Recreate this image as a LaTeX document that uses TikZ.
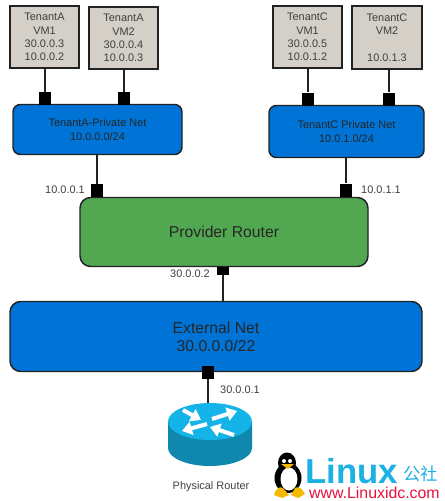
\documentclass[tikz,border=0pt]{standalone}
\usepackage{fontspec}
\setmainfont{Liberation Sans}
\newfontfamily\cjkfont{Noto Sans CJK SC}
\usetikzlibrary{arrows.meta, positioning, calc}
\definecolor{vmgray}{HTML}{D4D0C8}
\definecolor{netblue}{HTML}{0073D6}
\definecolor{routergreen}{HTML}{51A851}
\definecolor{textgray}{HTML}{404040}
\definecolor{linecol}{HTML}{222222}
\definecolor{icontop}{HTML}{14B4E8}
\definecolor{iconside}{HTML}{1088AE}
\definecolor{wmcyan}{HTML}{1CB0E4}
\definecolor{wmred}{HTML}{E8103C}
\definecolor{wmyellow}{HTML}{F5B800}
\def\u{0.75pt}
\begin{document}
\begin{tikzpicture}[
    x=0.75pt, y=-0.75pt,
    link/.style={draw=linecol, line width=1.1pt},
    vmbox/.style={draw=linecol, line width=1.1pt, fill=vmgray, text=textgray, align=center, inner sep=0pt, font=\fontsize{8.2}{9.9}\selectfont},
    net/.style={draw=linecol, line width=1.1pt, fill=netblue, text=black!85, align=center, inner sep=0pt, rounded corners=5.5pt, font=\fontsize{8.2}{10}\selectfont},
    bignet/.style={net, rounded corners=8pt, font=\fontsize{11.8}{13.5}\selectfont},
    port/.style={fill=black, minimum width=12*\u, minimum height=13*\u, inner sep=0pt},
    addr/.style={text=textgray, inner sep=0pt, font=\fontsize{8.2}{10}\selectfont},
    iconarrow/.style={-{Triangle[length=7.5pt, width=10pt]}, white, line width=3pt},
]
\useasboundingbox (0,0) rectangle (444,501);
% === Tenant VMs ===
\node[vmbox, minimum width=69*\u, minimum height=62*\u] (vma1) at (44.5,37) {TenantA\\VM1\\30.0.0.3\\10.0.0.2};
\node[vmbox, minimum width=69*\u, minimum height=62*\u] (vma2) at (123.5,38) {TenantA\\VM2\\30.0.0.4\\10.0.0.3};
\node[vmbox, minimum width=69*\u, minimum height=62*\u] (vmc1) at (307.5,37) {TenantC\\VM1\\30.0.0.5\\10.0.1.2};
\node[vmbox, minimum width=70*\u, minimum height=63*\u] (vmc2) at (387,37.5) {TenantC\\VM2\\\mbox{}\\10.0.1.3};
% === Private nets ===
\node[net, minimum width=169*\u, minimum height=50*\u] (neta) at (97.5,129.5) {TenantA-Private Net\\10.0.0.0/24};
\node[net, minimum width=155*\u, minimum height=52*\u] (netc) at (346.5,131.5) {TenantC Private Net\\10.0.1.0/24};
% === Router and external net ===
\node[bignet, fill=routergreen, minimum width=288*\u, minimum height=69*\u] (provider) at (224,232) {Provider Router};
\node[bignet, minimum width=412*\u, minimum height=70*\u] (external) at (216,336.5) {External Net\\30.0.0.0/22};
% === Ports ===
\node[port] (pa1) at (45,98.5) {};
\node[port] (pa2) at (124,98.5) {};
\node[port] (pc1) at (308,99) {};
\node[port] (pc2) at (389,99) {};
\node[port] (pa3) at (97,190.5) {};
\node[port] (pc3) at (346,190) {};
\node[port, minimum height=8*\u] (prov) at (223,271) {};
\node[port] (pext) at (208,372.5) {};
% === Links ===
\coordinate (rlink) at (208,405);
\draw[link] (pa1.north) -- (pa1.north |- vma1.south);
\draw[link] (pa2.north) -- (pa2.north |- vma2.south);
\draw[link] (pc1.north) -- (pc1.north |- vmc1.south);
\draw[link] (pc2.north) -- (pc2.north |- vmc2.south);
\draw[link] (pa3.north) -- (pa3.north |- neta.south);
\draw[link] (pc3.north) -- (pc3.north |- netc.south);
\draw[link] (prov.south) -- (prov.south |- external.north);
\draw[link] (pext.south) -- (rlink);
% === Addresses ===
\node[addr] (lbla) at (65,190) {10.0.0.1};
\node[addr] (lblc) at (381,190) {10.0.1.1};
\node[addr] (lblp) at (190,274) {30.0.0.2};
\node[addr] (lble) at (240,390) {30.0.0.1};
% === Physical router icon ===
\coordinate (rtop) at (210,421.5);
\coordinate (rbot) at (210,448);
\fill[iconside] ([xshift=-42*\u]rtop) -- ([xshift=-42*\u]rbot) arc[start angle=180, end angle=360, x radius=42*\u, y radius=18*\u] -- ([xshift=42*\u]rtop) -- cycle;
\fill[icontop] (rtop) ellipse[x radius=42*\u, y radius=18.5*\u];
\draw[iconarrow] (183,410) -- (201,420);
\draw[iconarrow] (212,419) -- (237,411);
\draw[iconarrow] (207,424) -- (182,431);
\draw[iconarrow] (234,435) -- (210,427);
\node[addr] (lblr) at (211,487) {Physical Router};
% === Watermark ===
\fill[black] (288,478) ellipse[x radius=13.5*\u, y radius=15*\u];
\fill[black] (287,463) ellipse[x radius=9*\u, y radius=10.5*\u];
\fill[white] (289,479) ellipse[x radius=8.5*\u, y radius=11.5*\u];
\fill[white] (284,461) circle[radius=2*\u];
\fill[white] (290,461) circle[radius=2*\u];
\fill[wmyellow] (281,464) -- (294,464) -- (288,469) -- cycle;
\fill[wmyellow] (274,495) .. controls (276,488) and (280,486) .. (283,488) -- (289,495) -- (282,498) -- cycle;
\fill[wmyellow] (305,494) .. controls (302,488) and (298,486) .. (295,488) -- (291,495) -- (298,498) -- cycle;
\node[inner sep=0pt, anchor=base west, text=wmcyan, font=\fontsize{26}{26}\selectfont\bfseries] (wmlinux) at (305,483) {Linux};
\node[inner sep=0pt, anchor=west, text=wmcyan, font=\fontsize{13}{13}\cjkfont] (wmcjk) at (403,473.5) {公社};
\node[inner sep=0pt, anchor=base east, text=wmred, font=\fontsize{11.9}{12}\selectfont] (wmurl) at (440,498) {www.Linuxidc.com};
\end{tikzpicture}
\end{document}
